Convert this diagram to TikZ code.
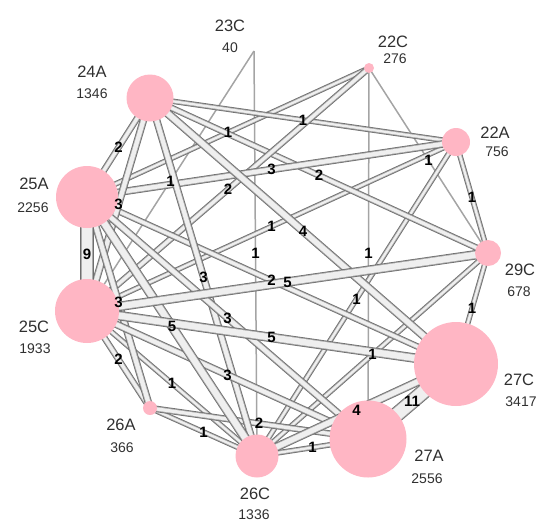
\documentclass[tikz,border=0pt]{standalone}
\usepackage{fontspec}
\setmainfont{Liberation Sans}
\usetikzlibrary{backgrounds}
\definecolor{nodepink}{HTML}{FFB6C4}
\definecolor{tubeouter}{HTML}{6E6E6E}
\definecolor{tubemid}{HTML}{ABABAB}
\definecolor{tubein}{HTML}{EFEFEF}
\definecolor{slimgray}{HTML}{A4A4A4}
\definecolor{txt}{HTML}{303030}
\newcommand\lnk[4]{%
  \begin{pgfonlayer}{background}\draw[tubeline=#3pt] (#1.center) -- (#2.center);\end{pgfonlayer}%
  \path (#1.center) -- (#2.center) node[midway,wl]{#4};}
\newcommand\slimlnk[3]{%
  \begin{pgfonlayer}{background}\draw[slimline] (#1.center) -- (#2.center);\end{pgfonlayer}%
  \path (#1.center) -- (#2.center) node[midway,wl]{#3};}
\begin{document}
\begin{tikzpicture}[x=1pt,y=-1pt,
  vtx/.style={circle, fill=nodepink, draw=none, inner sep=0pt, minimum size=#1},
  nm/.style={font=\fontsize{16.5}{16}\selectfont, text=txt, inner sep=0pt},
  val/.style={font=\fontsize{14}{14}\selectfont, text=txt, inner sep=0pt},
  tubeline/.style={draw=tubein, line width=#1-3.2pt,
    preaction={draw=tubeouter, line width=#1},
    preaction={draw=tubemid, line width=#1-1.6pt}},
  slimline/.style={draw=slimgray, line width=1.5pt},
  wl/.style={font=\bfseries\fontsize{15}{15}\selectfont, inner sep=0pt, text=black},
]
\useasboundingbox (0,0) rectangle (548,523);

% vertices
\node[vtx=28pt] (n22A) at (456,142) {};
\node[vtx=10pt] (n22C) at (369,68) {};
\coordinate (n23C) at (254,51);
\node[vtx=47pt] (n24A) at (150,98) {};
\node[vtx=62pt] (n25A) at (87,197) {};
\node[vtx=64pt] (n25C) at (87,311) {};
\node[vtx=14pt] (n26A) at (150,408) {};
\node[vtx=43pt] (n26C) at (257,456) {};
\node[vtx=77pt] (n27A) at (368,439) {};
\node[vtx=84pt] (n27C) at (456,364) {};
\node[vtx=26pt] (n29C) at (488,253) {};

% vertex labels
\node[nm] (t22A) at (495,133) {22A};  \node[val] (v22A) at (497,152) {756};
\node[nm] (t22C) at (393,42) {22C};   \node[val] (v22C) at (395,59) {276};
\node[nm] (t23C) at (230,26) {23C};   \node[val] (v23C) at (230,48) {40};
\node[nm] (t24A) at (92,72) {24A};    \node[val] (v24A) at (92,94) {1346};
\node[nm] (t25A) at (34,184) {25A};   \node[val] (v25A) at (33,208) {2256};
\node[nm] (t25C) at (34,327) {25C};   \node[val] (v25C) at (35,349) {1933};
\node[nm] (t26A) at (121,425) {26A};  \node[val] (v26A) at (122,448) {366};
\node[nm] (t26C) at (255,494) {26C};  \node[val] (v26C) at (254,515) {1336};
\node[nm] (t27A) at (429,456) {27A};  \node[val] (v27A) at (427,479) {2556};
\node[nm] (t27C) at (519,380) {27C};  \node[val] (v27C) at (521,402) {3417};
\node[nm] (t29C) at (520,270) {29C};  \node[val] (v29C) at (519,292) {678};

% thin links
\slimlnk{n23C}{n25C}{1}
\slimlnk{n23C}{n26C}{1}
\slimlnk{n22C}{n27A}{1}
\slimlnk{n22C}{n29C}{1}
% weight 1
\lnk{n26A}{n26C}{5.5}{1}
\lnk{n26C}{n27A}{5.5}{1}
\lnk{n27C}{n29C}{5.5}{1}
\lnk{n29C}{n22A}{5.5}{1}
\lnk{n22C}{n25A}{5.5}{1}
\lnk{n24A}{n22A}{5.5}{1}
\lnk{n22A}{n25C}{5.5}{1}
\lnk{n22A}{n26C}{5.5}{1}
\lnk{n29C}{n26C}{5.5}{1}
\lnk{n25C}{n26C}{5.5}{1}
% weight 2
\lnk{n24A}{n25A}{6.5}{2}
\lnk{n25C}{n26A}{6.5}{2}
\lnk{n24A}{n29C}{6.5}{2}
\lnk{n22C}{n25C}{6.5}{2}
\lnk{n25A}{n27C}{6.5}{2}
\lnk{n26A}{n27A}{6.5}{2}
% weight 3
\lnk{n22A}{n25A}{7.5}{3}
\lnk{n24A}{n25C}{7.5}{3}
\lnk{n24A}{n26C}{7.5}{3}
\lnk{n25A}{n26A}{7.5}{3}
\lnk{n25A}{n27A}{7.5}{3}
\lnk{n25C}{n27A}{7.5}{3}
% weight 4
\lnk{n24A}{n27C}{8.5}{4}
\lnk{n26C}{n27C}{8.5}{4}
% weight 5
\lnk{n25A}{n26C}{9.5}{5}
\lnk{n25C}{n29C}{9.5}{5}
\lnk{n25C}{n27C}{9.5}{5}
% heavy
\lnk{n25A}{n25C}{13.5}{9}
\lnk{n27A}{n27C}{15.5}{11}
\end{tikzpicture}
\end{document}
